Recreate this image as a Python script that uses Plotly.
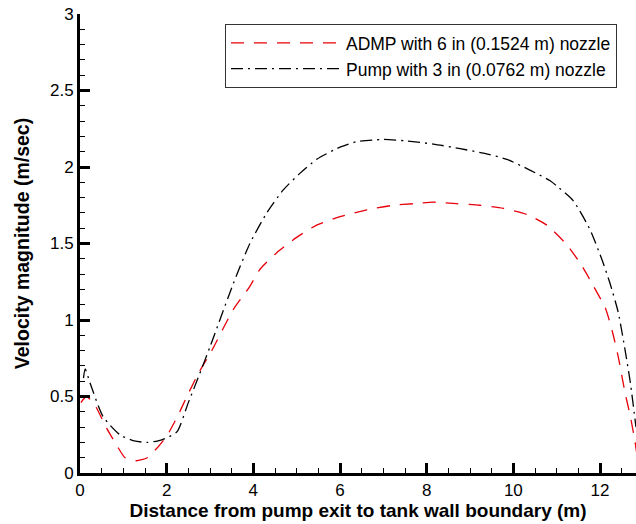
import plotly.graph_objects as go

# Data
x_admp = [0.02, 0.15, 0.35, 0.62, 0.85, 1.04, 1.3, 1.55, 1.8, 2.0, 2.25, 2.5, 2.75, 3.04,
          3.54, 3.92, 4.15, 4.54, 5.0, 5.46, 6.0, 6.62, 7.23, 7.69, 8.15, 8.69, 9.23,
          9.77, 10.31, 10.77, 11.24, 11.59, 11.85, 12.12, 12.28, 12.42, 12.58, 12.7,
          12.81, 12.85]
y_admp = [0.46, 0.50, 0.44, 0.29, 0.18, 0.10, 0.08, 0.10, 0.17, 0.24, 0.37, 0.52, 0.66, 0.80,
          1.07, 1.22, 1.33, 1.44, 1.54, 1.62, 1.675, 1.72, 1.75, 1.76, 1.77, 1.76, 1.75,
          1.73, 1.69, 1.62, 1.49, 1.35, 1.22, 1.08, 0.93, 0.76, 0.52, 0.37,
          0.20, 0.12]

x_pump = [0.08, 0.12, 0.23, 0.53, 0.92, 1.25, 1.55, 1.8, 2.0, 2.24, 2.5, 2.75, 3.0, 3.54,
          3.92, 4.31, 4.69, 5.08, 5.46, 6.0, 6.38, 7.0, 7.54, 8.15, 8.77, 9.31, 9.85,
          10.38, 10.85, 11.0, 11.38, 11.77, 12.05, 12.23, 12.42, 12.58, 12.7, 12.79, 12.83]
y_pump = [0.62, 0.68, 0.59, 0.37, 0.25, 0.21, 0.20, 0.21, 0.23, 0.27, 0.46, 0.64, 0.825, 1.24,
          1.50, 1.70, 1.85, 1.96, 2.05, 2.13, 2.165, 2.18, 2.17, 2.15, 2.12, 2.09, 2.05,
          1.98, 1.91, 1.876, 1.78, 1.59, 1.39, 1.24, 1.05, 0.80, 0.59, 0.39, 0.30]

name_admp = "ADMP with 6 in (0.1524 m) nozzle"
name_pump = "Pump with 3 in (0.0762 m) nozzle"

x_title = "Distance from pump exit to tank wall boundary (m)"
y_title = "Velocity magnitude (m/sec)"

FONT = "Arial, 'Liberation Sans', sans-serif"

fig = go.Figure()
fig.add_trace(go.Scatter(
    x=x_admp, y=y_admp, mode="lines", name=name_admp,
    line=dict(color="#e8000b", width=1.3, dash="13px,10px", shape="spline", smoothing=0.6),
))
fig.add_trace(go.Scatter(
    x=x_pump, y=y_pump, mode="lines", name=name_pump,
    line=dict(color="black", width=1.3, dash="12px,5px,2px,5px", shape="spline", smoothing=0.6),
))

axis_common = dict(
    showline=True, linecolor="black", linewidth=3, mirror=False,
    ticks="inside", ticklen=10, tickwidth=2.5, tickcolor="black",
    showgrid=False, zeroline=False, automargin=False,
    ticklabeloverflow="allow",
    tickfont=dict(family=FONT, size=17, color="black"),
)

fig.update_xaxes(
    range=[0, 12.83], tickmode="linear", tick0=0, dtick=2,
    minor=dict(ticks="inside", ticklen=5, tickwidth=1.2, tickcolor="black", dtick=0.5, showgrid=False),
    title=dict(text=f"<b>{x_title}</b>", font=dict(family=FONT, size=19, color="black"), standoff=4),
    **axis_common,
)
fig.update_yaxes(
    range=[0, 3], tickmode="linear", tick0=0, dtick=0.5,
    minor=dict(ticks="inside", ticklen=5, tickwidth=1.2, tickcolor="black", dtick=0.1, showgrid=False),
    title=dict(text=f"<b>{y_title}</b>", font=dict(family=FONT, size=19.5, color="black"), standoff=16),
    **axis_common,
)

fig.update_layout(
    width=636, height=524,
    margin=dict(l=80, r=0, t=14, b=51),
    plot_bgcolor="white", paper_bgcolor="white",
    font=dict(family=FONT, size=17, color="black"),
    showlegend=True,
    legend=dict(
        x=0.9658, y=0.978, xanchor="right", yanchor="top",
        bgcolor="white", bordercolor="#333333", borderwidth=1,
        font=dict(family=FONT, size=17.5, color="black"),
        itemwidth=110, tracegroupgap=0,
    ),
)

# Remove the default page margin so the 636x524 figure fills the window exactly.
fig.write_html(
    "out.html",
    config={"displayModeBar": False},
    post_script="document.body.style.margin='0';document.body.style.overflow='hidden';",
)
